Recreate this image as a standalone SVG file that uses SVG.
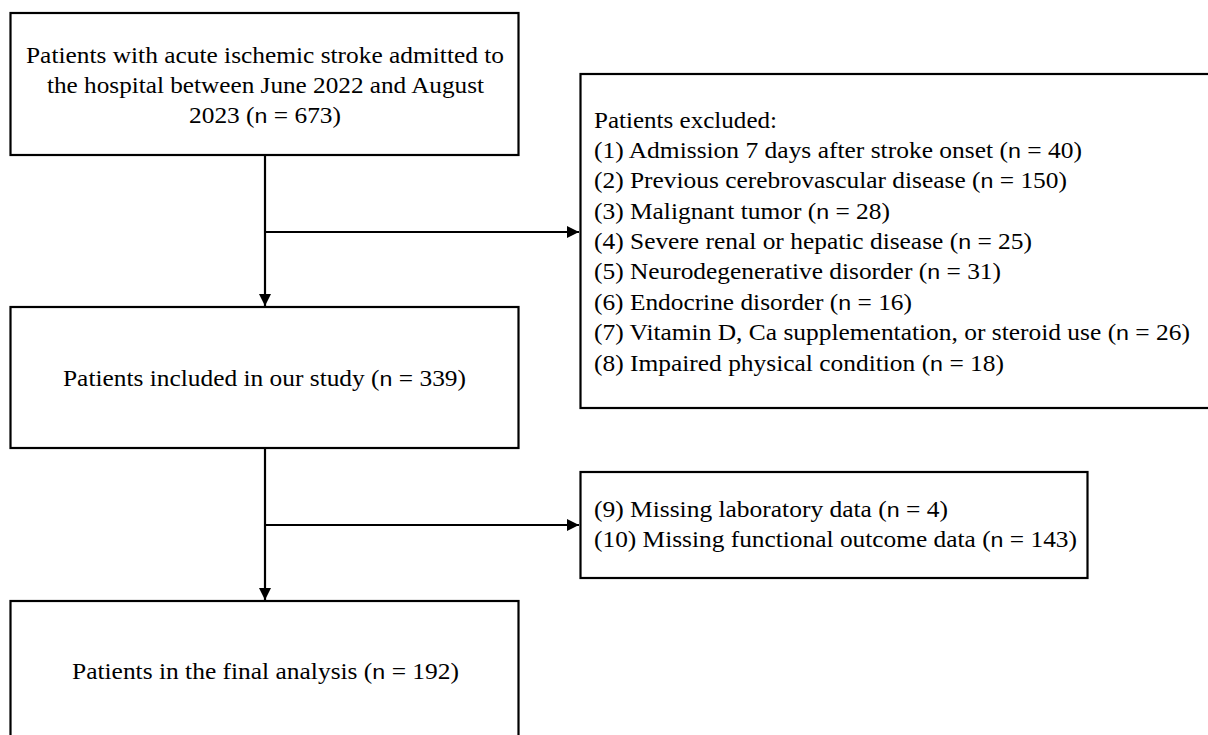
<svg xmlns="http://www.w3.org/2000/svg" width="1208" height="735" viewBox="0 0 1208 735">
<style>
.box{fill:#fff;stroke:#000;stroke-width:2.2}
.t{font-family:'Times New Roman','Liberation Serif',Times,serif;font-size:23px;fill:#000}
.n{font-family:Arial,'Liberation Sans',Helvetica,sans-serif;font-size:21px}
.c{stroke:#000;stroke-width:2.2;fill:none}
</style>
<defs>
<marker id="ah" markerUnits="userSpaceOnUse" markerWidth="12" markerHeight="12" viewBox="0 0 10 10" refX="10" refY="5" orient="auto">
<path d="M0,0 L10,5 L0,10 Z" fill="#000"/>
</marker>
</defs>
<rect width="1208" height="735" fill="#fff"/>
<g id="connectors">
<line class="c" x1="265" y1="155" x2="265" y2="306" marker-end="url(#ah)"/>
<line class="c" x1="265" y1="232" x2="579" y2="232" marker-end="url(#ah)"/>
<line class="c" x1="265" y1="448" x2="265" y2="600" marker-end="url(#ah)"/>
<line class="c" x1="265" y1="525" x2="579" y2="525" marker-end="url(#ah)"/>
</g>
<g id="node-admitted">
<rect class="box" x="10.5" y="13" width="508" height="142"/>
<text class="t" x="26" y="63" textLength="478" lengthAdjust="spacingAndGlyphs">Patients with acute ischemic stroke admitted to</text>
<text class="t" x="47" y="93" textLength="437" lengthAdjust="spacingAndGlyphs">the hospital between June 2022 and August</text>
<text class="t" x="189" y="123" textLength="152" lengthAdjust="spacingAndGlyphs">2023 (<tspan class="n">n</tspan> = 673)</text>
</g>
<g id="node-included">
<rect class="box" x="10.5" y="307" width="508" height="141"/>
<text class="t" x="63" y="386" textLength="403" lengthAdjust="spacingAndGlyphs">Patients included in our study (<tspan class="n">n</tspan> = 339)</text>
</g>
<g id="node-final">
<rect class="box" x="10.5" y="601" width="508" height="160"/>
<text class="t" x="72" y="679" textLength="387" lengthAdjust="spacingAndGlyphs">Patients in the final analysis (<tspan class="n">n</tspan> = 192)</text>
</g>
<g id="node-excluded">
<rect class="box" x="580.5" y="74" width="640" height="334"/>
<text class="t" x="594" y="128" textLength="183" lengthAdjust="spacingAndGlyphs">Patients excluded:</text>
<text class="t" x="594" y="158" textLength="488" lengthAdjust="spacingAndGlyphs">(1) Admission 7 days after stroke onset (<tspan class="n">n</tspan> = 40)</text>
<text class="t" x="594" y="188" textLength="473" lengthAdjust="spacingAndGlyphs">(2) Previous cerebrovascular disease (<tspan class="n">n</tspan> = 150)</text>
<text class="t" x="594" y="219" textLength="296" lengthAdjust="spacingAndGlyphs">(3) Malignant tumor (<tspan class="n">n</tspan> = 28)</text>
<text class="t" x="594" y="249" textLength="438" lengthAdjust="spacingAndGlyphs">(4) Severe renal or hepatic disease (<tspan class="n">n</tspan> = 25)</text>
<text class="t" x="594" y="279" textLength="407" lengthAdjust="spacingAndGlyphs">(5) Neurodegenerative disorder (<tspan class="n">n</tspan> = 31)</text>
<text class="t" x="594" y="310" textLength="318" lengthAdjust="spacingAndGlyphs">(6) Endocrine disorder (<tspan class="n">n</tspan> = 16)</text>
<text class="t" x="594" y="340" textLength="596" lengthAdjust="spacingAndGlyphs">(7) Vitamin D, Ca supplementation, or steroid use (<tspan class="n">n</tspan> = 26)</text>
<text class="t" x="594" y="371" textLength="410" lengthAdjust="spacingAndGlyphs">(8) Impaired physical condition (<tspan class="n">n</tspan> = 18)</text>
</g>
<g id="node-missing">
<rect class="box" x="580.5" y="472" width="507" height="106"/>
<text class="t" x="594" y="517" textLength="354" lengthAdjust="spacingAndGlyphs">(9) Missing laboratory data (<tspan class="n">n</tspan> = 4)</text>
<text class="t" x="594" y="547" textLength="483" lengthAdjust="spacingAndGlyphs">(10) Missing functional outcome data (<tspan class="n">n</tspan> = 143)</text>
</g>
</svg>
